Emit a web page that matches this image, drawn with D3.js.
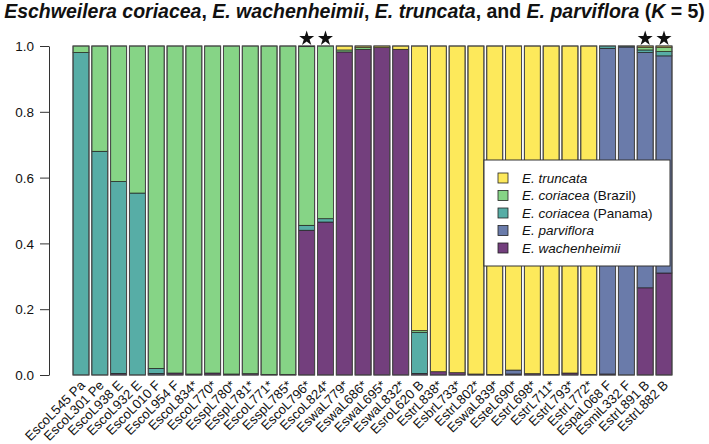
<!DOCTYPE html>
<html><head><meta charset="utf-8">
<script src="https://cdn.jsdelivr.net/npm/d3@7"></script>
<style>body{margin:0;background:#fff}svg{display:block}text{font-family:"Liberation Sans",Arial,sans-serif}</style>
</head><body>
<script>
const samples = ["EscoL545 Pa","EscoL301 Pe","EscoL938 E","EscoL932 E","EscoL010 F","EscoL954 F","EscoL834*","EscoL770*","EsspL780*","EsspL781*","EscoL771*","EsspL785*","EscoL796*","EscoL824*","EswaL779*","EswaL686*","EswaL695*","EswaL832*","EsroL620 B","EstrL838*","EsbrL733*","EstrL802*","EswaL839*","EsteL690*","EstrL698*","EstrL711*","EstrL793*","EstrL772*","EspaL068 F","EsmiL332 F","EstrL891 B","EstrL882 B"];
const starred = ["EscoL796*","EscoL824*","EstrL891 B","EstrL882 B"];
// cluster membership (bottom to top in each bar)
const wachenheimii = [0,0,0.005,0,0,0.006,0.003,0.006,0.003,0.004,0.002,0.002,0.44,0.465,0.982,0.99,0.995,0.99,0.005,0.01,0.007,0.003,0.002,0.003,0.004,0.002,0.006,0.002,0.003,0,0.265,0.31];
const parviflora   = [0,0,0,0,0.005,0,0,0,0,0,0,0,0,0,0,0,0,0,0,0,0,0,0,0.012,0,0,0,0,0.99,0.997,0.715,0.66];
const coriaceaPan  = [0.98,0.68,0.583,0.553,0.015,0,0,0,0,0,0,0,0.015,0.01,0,0,0,0,0.125,0,0,0,0,0,0,0,0,0,0.007,0.003,0.008,0.013];
const coriaceaBra  = [0.02,0.32,0.412,0.447,0.98,0.994,0.997,0.994,0.997,0.996,0.998,0.998,0.543,0.525,0.006,0.005,0,0,0.005,0,0,0,0,0,0,0,0,0,0,0,0.007,0.012];
const truncata     = [0,0,0,0,0,0,0,0,0,0,0,0,0.002,0,0.012,0.005,0.005,0.01,0.865,0.99,0.993,0.997,0.998,0.985,0.996,0.998,0.994,0.998,0,0,0.005,0.005];
const yTicks = [0,0.2,0.4,0.6,0.8,1.0];

const clusters = [
  {key:"wach", name:["E. wachenheimii",""], vals:wachenheimii, color:"#733f7d"},
  {key:"parv", name:["E. parviflora",""], vals:parviflora, color:"#6a7baa"},
  {key:"pan",  name:["E. coriacea"," (Panama)"], vals:coriaceaPan, color:"#57ada6"},
  {key:"bra",  name:["E. coriacea"," (Brazil)"], vals:coriaceaBra, color:"#86d486"},
  {key:"tru",  name:["E. truncata",""], vals:truncata, color:"#fde95b"}
];

const W=709,H=444;
const svg=d3.select("body").append("svg").attr("width",W).attr("height",H);

const x=d3.scaleBand().domain(samples).range([71.6,673.4]).paddingInner(0.15).paddingOuter(0.075);
const y=d3.scaleLinear().domain([0,1]).range([375,46]);

const table = samples.map((s,i)=>{const o={sample:s}; clusters.forEach(c=>o[c.key]=c.vals[i]); return o;});
const stack=d3.stack().keys(clusters.map(c=>c.key))(table);

const g=svg.append("g");
stack.forEach((layer,li)=>{
  g.append("g").selectAll("rect").data(layer).join("rect")
    .attr("x",d=>x(d.data.sample)).attr("width",x.bandwidth())
    .attr("y",d=>y(d[1])).attr("height",d=>Math.max(0,y(d[0])-y(d[1])))
    .attr("fill",clusters[li].color)
    .attr("stroke","#1e1e1e").attr("stroke-width",0.7);
});
g.append("g").selectAll("rect").data(samples).join("rect")
  .attr("x",d=>x(d)).attr("width",x.bandwidth()).attr("y",y(1)).attr("height",y(0)-y(1))
  .attr("fill","none").attr("stroke","#4a4a4a").attr("stroke-width",1);

// y axis
const ax=svg.append("g").attr("transform","translate(49,0)")
  .call(d3.axisLeft(y).tickValues(yTicks).tickFormat(d3.format(".1f")).tickSize(9).tickSizeOuter(0));
ax.select(".domain").attr("stroke","#333");
ax.selectAll(".tick line").attr("stroke","#333");
ax.selectAll(".tick text").attr("font-size",13.5).attr("fill","#111").attr("x",-15).attr("dy","0.35em").attr("font-family","Liberation Sans, Arial, sans-serif");

// x labels
svg.append("g").selectAll("text").data(samples).join("text")
  .attr("transform",d=>`translate(${x(d)+x.bandwidth()/2+5},${386}) rotate(-45)`)
  .attr("text-anchor","end").attr("font-size",13.2).attr("fill","#111")
  .text(d=>d);

// stars
svg.append("g").selectAll("path").data(starred).join("path")
  .attr("transform",d=>`translate(${x(d)+x.bandwidth()/2},${38.5})`)
  .attr("d",d3.symbol(d3.symbolStar).size(70)).attr("fill","#111");

// title
const t=svg.append("text").attr("x",W/2).attr("y",17.5).attr("text-anchor","middle")
  .attr("font-size",19.5).attr("font-weight","bold").attr("fill","#111");
[["Eschweilera coriacea",1],[", ",0],["E. wachenheimii",1],[", ",0],["E. truncata",1],[", and ",0],["E. parviflora",1],[" (",0],["K",1],[" = 5)",0]]
 .forEach(([s,it])=>t.append("tspan").attr("font-style",it?"italic":"normal").text(s));

// legend
const lg=svg.append("g").attr("transform","translate(484,160)");
lg.append("rect").attr("width",186).attr("height",106).attr("fill","#fff").attr("stroke","#333").attr("stroke-width",1);
const legItems=clusters.slice().reverse();
legItems.forEach((c,i)=>{
  const yy=18+i*17.5;
  lg.append("rect").attr("x",14).attr("y",yy-5).attr("width",10).attr("height",10).attr("fill",c.color).attr("stroke","#222").attr("stroke-width",0.8);
  const tx=lg.append("text").attr("x",38).attr("y",yy).attr("dy","0.35em").attr("font-size",13.5).attr("fill","#111");
  tx.append("tspan").attr("font-style","italic").text(c.name[0]);
  if(c.name[1]) tx.append("tspan").text(c.name[1]);
});
</script>
</body></html>
